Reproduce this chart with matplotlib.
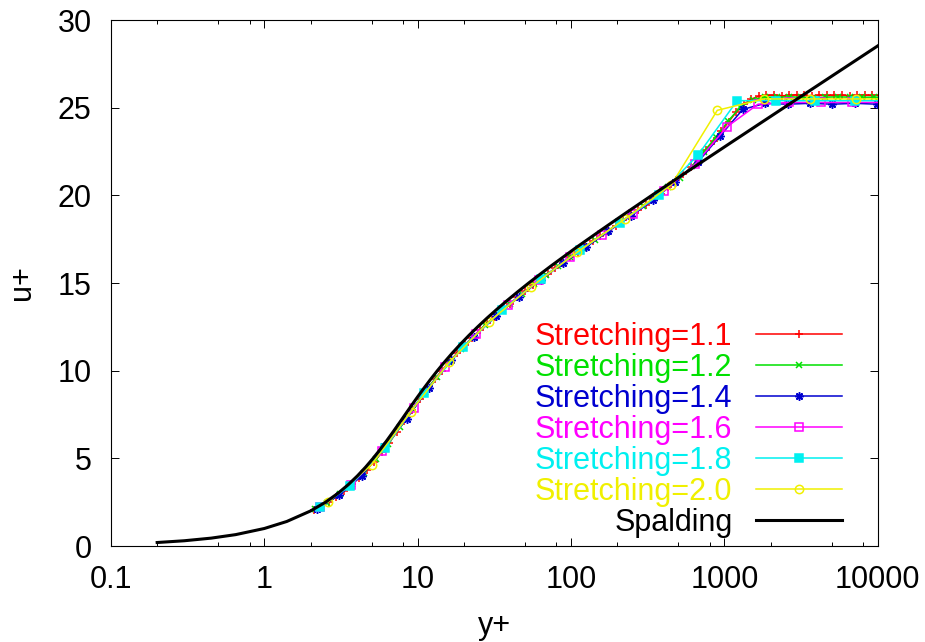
import matplotlib
matplotlib.use("Agg")
import matplotlib.pyplot as plt
from matplotlib import ticker

plt.rcParams['font.family'] = ['Liberation Sans', 'DejaVu Sans']
plt.rcParams['font.size'] = 22

# Spalding law of the wall (kappa=0.4, B=5.5)
spalding_y = [0.2, 0.3, 0.45, 0.65, 1.0, 1.4, 2.0, 2.506, 3.012, 3.524, 4.043, 4.573,
              5.117, 5.681, 6.27, 6.894, 7.56, 8.285, 9.08, 9.966, 10.97, 12.11, 13.43,
              14.97, 16.78, 18.93, 21.5, 24.59, 28.3, 32.8, 38.25, 44.88, 52.9, 62.77,
              74.7, 89.4, 107.0, 129.1, 155.7, 188.3, 228.0, 276.8, 336.0, 409.0, 497.8,
              606.5, 739.0, 901.3, 1099, 1341.5, 1637, 1998.7, 2440, 2979.7, 3639, 4444,
              5427, 6629, 8097, 9889, 10293]
spalding_u = [0.2, 0.3, 0.45, 0.65, 1.0, 1.4, 2.0, 2.5, 3.0, 3.5, 4.0, 4.5,
              5.0, 5.5, 6.0, 6.5, 7.0, 7.5, 8.0, 8.5, 9.0, 9.5, 10.0,
              10.5, 11.0, 11.5, 12.0, 12.5, 13.0, 13.5, 14.0, 14.5, 15.0, 15.5,
              16.0, 16.5, 17.0, 17.5, 18.0, 18.5, 19.0, 19.5, 20.0, 20.5, 21.0,
              21.5, 22.0, 22.5, 23.0, 23.5, 24.0, 24.5, 25.0, 25.5, 26.0, 26.5,
              27.0, 27.5, 28.0, 28.5, 28.6]

# velocity profiles, one per mesh stretching ratio
y_11 = [2.1, 2.35, 2.63, 2.95, 3.3, 3.7, 4.14, 4.64, 5.2, 5.82,
        6.52, 7.3, 8.18, 9.16, 10.3, 11.5, 12.9, 14.4, 16.1, 18.1,
        20.2, 22.7, 25.4, 28.4, 31.8, 35.6, 39.9, 44.7, 50.1, 56.1,
        62.8, 70.3, 78.8, 88.2, 98.8, 111, 124, 139, 155, 174,
        195, 218, 244, 274, 306, 343, 384, 430, 482, 540,
        605, 677, 759, 850, 952, 1066, 1194, 1337, 1498, 1677,
        1879, 2104, 2357, 2640, 2956, 3311, 3709, 4154, 4652, 5211,
        5836, 6536, 7321, 8199, 9183, 10285]
u_11 = [2.05, 2.28, 2.53, 2.82, 3.14, 3.51, 3.89, 4.34, 4.82, 5.35,
        5.9, 6.5, 7.13, 7.75, 8.37, 8.93, 9.5, 10.01, 10.51, 11.01,
        11.45, 11.89, 12.31, 12.71, 13.09, 13.46, 13.82, 14.19, 14.53, 14.86,
        15.2, 15.52, 15.84, 16.16, 16.47, 16.79, 17.08, 17.39, 17.69, 17.98,
        18.28, 18.57, 18.86, 19.17, 19.47, 19.78, 20.1, 20.45, 20.85, 21.2,
        21.6, 22.1, 22.6, 23.1, 23.65, 24.2, 24.75, 25.2, 25.5, 25.65,
        25.7, 25.72, 25.68, 25.7, 25.74, 25.7, 25.68, 25.72, 25.7, 25.7,
        25.72, 25.68, 25.7, 25.72, 25.7, 25.7]

y_12 = [2.15, 2.58, 3.1, 3.72, 4.46, 5.35, 6.42, 7.7, 9.25, 11.1,
        13.3, 16.0, 19.2, 23.0, 27.6, 33.1, 39.8, 47.7, 57.3, 68.7,
        82.5, 99, 119, 143, 171, 205, 246, 296, 355, 426,
        511, 613, 736, 883, 1060, 1272, 1526, 1831, 2197, 2637,
        3164, 3797, 4556, 5468, 6561, 7873, 9448, 11338]
u_12 = [2.1, 2.48, 2.95, 3.53, 4.19, 4.96, 5.82, 6.8, 7.8, 8.76,
        9.65, 10.48, 11.23, 11.93, 12.62, 13.23, 13.82, 14.37, 14.93, 15.44,
        15.97, 16.48, 16.97, 17.46, 17.93, 18.41, 18.88, 19.37, 19.88, 20.45,
        21.0, 21.65, 22.5, 23.35, 24.25, 25.05, 25.45, 25.6, 25.6, 25.62,
        25.6, 25.58, 25.6, 25.62, 25.6, 25.6, 25.6, 25.6]

y_14 = [2.2, 3.08, 4.31, 6.04, 8.45, 11.8, 16.6, 23.2, 32.5, 45.5,
        63.6, 89.1, 125, 175, 245, 342, 479, 671, 939, 1315,
        1841, 2577, 3608, 5051, 7072, 9900, 13860]
u_14 = [2.12, 2.9, 4.0, 5.68, 7.26, 8.99, 10.62, 11.92, 13.12, 14.19,
        15.18, 16.15, 17.04, 17.95, 18.82, 19.72, 20.78, 21.9, 23.4, 24.9,
        25.25, 25.2, 25.25, 25.2, 25.25, 25.2, 25.2]

y_16 = [2.3, 3.68, 5.89, 9.42, 15.1, 24.1, 38.6, 61.7, 98.7, 158,
        253, 404, 647, 1035, 1656, 2650, 4240, 6784, 10855]
u_16 = [2.23, 3.49, 5.4, 7.89, 10.23, 12.12, 13.73, 15.15, 16.47, 17.73,
        18.94, 20.25, 21.8, 23.9, 25.2, 25.3, 25.3, 25.3, 25.3]

y_18 = [2.3, 3.6, 6.1, 11.0, 19.8, 35.6, 64, 115, 207, 373,
        672, 1210, 2178, 3920, 7056, 12700]
u_18 = [2.23, 3.41, 5.59, 8.71, 11.36, 13.46, 15.25, 16.88, 18.43, 20.0,
        22.3, 25.4, 25.4, 25.4, 25.4, 25.4]

y_20 = [2.6, 5.0, 9.0, 16, 29, 55, 110, 225, 450, 898,
        1800, 3600, 7200, 14400]
u_20 = [2.5, 4.64, 7.66, 10.48, 12.77, 14.79, 16.77, 18.66, 20.6, 24.85,
        25.5, 25.5, 25.5, 25.5]

series = [
    (y_11, u_11, "Stretching=1.1", "#ff0000", "+", "#ff0000", 6),
    (y_12, u_12, "Stretching=1.2", "#00e000", "x", "#00e000", 5),
    (y_14, u_14, "Stretching=1.4", "#0000d0", (8, 2, 0), "#0000d0", 6),
    (y_16, u_16, "Stretching=1.6", "#ff00ff", "s", "none", 6),
    (y_18, u_18, "Stretching=1.8", "#00f0f0", "s", "#00f0f0", 6),
    (y_20, u_20, "Stretching=2.0", "#f0f000", "o", "none", 6),
]

fig = plt.figure(figsize=(9.25, 6.42), dpi=100)
ax = fig.add_axes([0.12, 0.1495, 0.829, 0.8193])

for y, u, name, col, mk, face, size in series:
    ax.plot(y, u, color=col, lw=1.1, marker=mk, ms=size, mew=1.1,
            mfc=face, mec=col, label=name)

ax.plot(spalding_y, spalding_u, color="black", lw=2.2, label="Spalding")

ax.set_xscale("log")
ax.set_xlim(0.1, 10000)
ax.set_ylim(0, 30)
ax.set_xticks([0.1, 1, 10, 100, 1000, 10000])
ax.set_xticklabels(["0.1", "1", "10", "100", "1000", "10000"])
ax.xaxis.set_minor_locator(ticker.LogLocator(base=10, subs=(2, 5, 8)))
ax.xaxis.set_minor_formatter(ticker.NullFormatter())
ax.set_yticks([0, 5, 10, 15, 20, 25, 30])

ax.tick_params(which="both", direction="in", top=True, right=True, width=0.7)
ax.tick_params(which="major", length=6, pad=14)
ax.tick_params(which="minor", length=3)
for s in ax.spines.values():
    s.set_linewidth(0.8)

ax.set_xlabel("y+", va="center")
ax.set_ylabel("u+", va="center")
ax.xaxis.set_label_coords(0.5, -0.152)
ax.yaxis.set_label_coords(-0.116, 0.5)

ax.legend(loc="lower right", bbox_to_anchor=(0.953, 0.015), frameon=False,
          markerfirst=False, numpoints=1, handlelength=2.8, handletextpad=0.78,
          labelspacing=0.035, borderpad=0, borderaxespad=0, labelcolor="linecolor")

plt.savefig("out.png", dpi=100)
